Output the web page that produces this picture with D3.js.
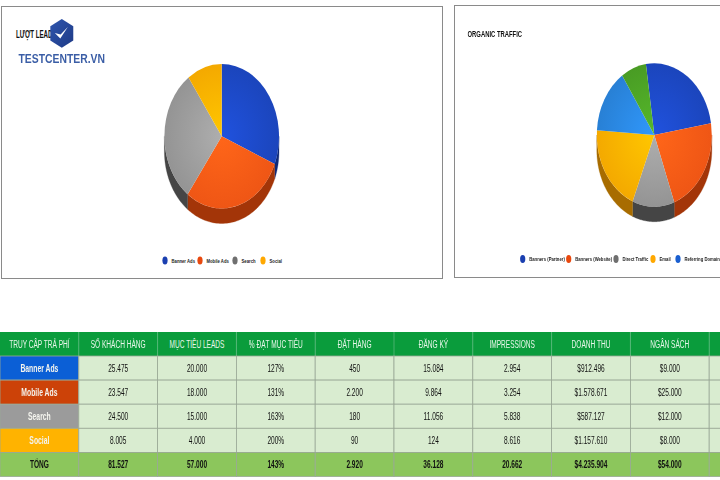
<!DOCTYPE html>
<html><head><meta charset="utf-8">
<script src="https://cdn.jsdelivr.net/npm/d3@7"></script>
<style>html,body{margin:0;padding:0;background:#fff;overflow:hidden}svg{display:block;filter:blur(.35px)}text{font-family:"Liberation Sans",Arial,sans-serif}</style>
</head><body><svg id="c" width="720" height="480"></svg>
<script>
const leadNames = ["Banner Ads","Mobile Ads","Search","Social"];
const leadValues = [25475,23547,24500,8005];
const leadColors = ["#1c48c4","#f95a16","#9a9a9a","#ffb000"];
const leadDark = ["#0f2a78","#a33508","#454545","#a86c00"];
const trafficNames = ["Banners (Partner)","Banners (Website)","Direct Traffic","Email","Referring Domains"];
const trafficValues = [24.7,22.0,11.8,19.9,14.5,7.1];
const trafficColors = ["#1c48c4","#f95a16","#9a9a9a","#ffb000","#2a86de","#4ca326"];
const trafficDark = ["#0f2a78","#a33508","#454545","#a86c00","#14508c","#2a6414"];
const headers = ["TRUY CẬP TRẢ PHÍ","SỐ KHÁCH HÀNG","MỤC TIÊU LEADS","% ĐẠT MỤC TIÊU","ĐẶT HÀNG","ĐĂNG KÝ","IMPRESSIONS","DOANH THU","NGÂN SÁCH",""];
const rowBanner = ["Banner Ads","25.475","20.000","127%","450","15.084","2.954","$912.496","$9.000",""];
const rowMobile = ["Mobile Ads","23.547","18.000","131%","2.200","9.864","3.254","$1.578.671","$25.000",""];
const rowSearch = ["Search","24.500","15.000","163%","180","11.056","5.838","$587.127","$12.000",""];
const rowSocial = ["Social","8.005","4.000","200%","90","124","8.616","$1.157.610","$8.000",""];
const rowTotal = ["TỔNG","81.527","57.000","143%","2.920","36.128","20.662","$4.235.904","$54.000",""];
const rowFills = ["#0b5fd6","#cc4208","#9b9b9b","#ffb300"];

const svg = d3.select("#c");
const defs = svg.append("defs");
function sq(parent, s, x, y, size, sx, anchor, fill, weight){
  return parent.append("text").attr("transform",`translate(${x},${y}) scale(${sx},1)`)
    .attr("text-anchor",anchor||"middle").attr("font-size",size).attr("fill",fill||"#111")
    .attr("font-weight",weight||"normal").text(s);
}
// cards
[[1.5,6.5,441,272],[454.5,5.5,270,272]].forEach(r=>{
  svg.append("rect").attr("x",r[0]).attr("y",r[1]).attr("width",r[2]).attr("height",r[3])
    .attr("fill","#fff").attr("stroke","#8a8a8a").attr("stroke-width",1);
});
// pies
function pie3d(values, colors, dark, cx, cy, rx, ry, depth, startDeg, id){
  const g = svg.append("g");
  const start = startDeg*Math.PI/180;
  const arcs = d3.pie().sort(null).startAngle(start).endAngle(start+2*Math.PI)(values);
  const px = a => cx + rx*Math.sin(a), py = a => cy - ry*Math.cos(a);
  const line = d3.line();
  arcs.forEach((d,i)=>{
    // wall: part of the slice lying on the lower half of the ellipse
    [0,2*Math.PI].forEach(off=>{
      const a0 = Math.max(d.startAngle+off, Math.PI/2), a1 = Math.min(d.endAngle+off, 3*Math.PI/2);
      if(a1<=a0) return;
      const top = d3.range(0,61).map(k=>a0+(a1-a0)*k/60);
      const pts = top.map(a=>[px(a),py(a)]).concat(top.slice().reverse().map(a=>[px(a),py(a)+depth]));
      g.append("path").attr("d",line(pts)+"Z").attr("fill",dark[i]).attr("stroke",dark[i]).attr("stroke-width",.3);
    });
  });
  const arc = d3.arc().innerRadius(0).outerRadius(100);
  const top = g.append("g").attr("transform",`translate(${cx},${cy}) scale(${rx/100},${ry/100})`);
  arcs.forEach((d,i)=>{
    const gid = id+"g"+i;
    const rg = defs.append("radialGradient").attr("id",gid).attr("gradientUnits","userSpaceOnUse")
      .attr("cx",0).attr("cy",0).attr("r",100);
    const base = d3.color(colors[i]);
    rg.append("stop").attr("offset","0%").attr("stop-color",base.brighter(.35));
    rg.append("stop").attr("offset","100%").attr("stop-color",base.darker(.12));
    top.append("path").attr("d",arc(d)).attr("fill",`url(#${gid})`);
  });
}
pie3d(leadValues,leadColors,leadDark,221.7,136.3,57.3,72.2,15,0,"a");
pie3d(trafficValues,trafficColors,trafficDark,654.3,135,57.5,71.7,15,-8.4,"b");
// titles
sq(svg,"LƯỢT LEADS",16,38,10,.62,"start","#111","bold");
sq(svg,"ORGANIC TRAFFIC",467.5,36.5,9.5,.62,"start","#111","bold");
// legends
function legend(names,colors,xs,y,tw){
  names.forEach((n,i)=>{
    svg.append("ellipse").attr("cx",xs[i]).attr("cy",y).attr("rx",2.6).attr("ry",4).attr("fill",colors[i]);
    sq(svg,n,xs[i]+6.5,y+2,6.2,.68,"start","#222","bold");
  });
}
legend(leadNames,["#1a3fb0","#e8480e","#6f6f6f","#ffa800"],[165,200,235,263],260.5);
legend(trafficNames,["#1a3fb0","#e8480e","#6f6f6f","#ffa800","#1a5fd0"],[522.7,568.7,616,653,678],259);
// logo
const hx=61.8,hy=33.4,hr=14.4;
defs.append("linearGradient").attr("id","lg").attr("x1",0).attr("y1",0).attr("x2",1).attr("y2",1)
  .call(s=>{s.append("stop").attr("offset",0).attr("stop-color","#2f55ad");s.append("stop").attr("offset",1).attr("stop-color","#1e3a86");});
svg.append("path").attr("d",d3.line()(d3.range(6).map(i=>{const a=i*Math.PI/3;return [hx+hr*.92*Math.sin(a),hy-hr*Math.cos(a)];}))+"Z").attr("fill","url(#lg)");
svg.append("path").attr("d",d3.line()([[hx-7,hy-0.5],[hx-1.5,hy+5],[hx+6,hy-6.5],[hx-1.2,hy+1.2]])+"Z").attr("fill","#fff");
svg.append("text").attr("x",18.5).attr("y",63).attr("font-size",12.5).attr("font-weight","bold").attr("fill","#3b5ea6")
  .attr("textLength",86.5).attr("lengthAdjust","spacingAndGlyphs").text("TESTCENTER.VN");
// table
const cols = d3.range(headers.length);
const x = d3.scaleBand().domain(cols).range([0,788]);
const rows = [rowBanner,rowMobile,rowSearch,rowSocial,rowTotal];
const y = d3.scaleBand().domain(d3.range(rows.length)).range([356,476.5]);
const t = svg.append("g");
const S=10.6, SX=.62;
cols.forEach(c=>{
  t.append("rect").attr("x",x(c)).attr("y",332).attr("width",x.bandwidth()).attr("height",24).attr("fill","#0a9c3c");
  if(c>0) t.append("line").attr("x1",x(c)).attr("x2",x(c)).attr("y1",332).attr("y2",356).attr("stroke","#55b878").attr("stroke-width",.8);
  sq(t,headers[c],x(c)+x.bandwidth()/2,347.5,S,SX,"middle","#e8f6ea");
});
rows.forEach((r,ri)=>{
  const total = ri===rows.length-1;
  cols.forEach(c=>{
    const isLabel = c===0 && !total;
    t.append("rect").attr("x",x(c)).attr("y",y(ri)).attr("width",x.bandwidth()).attr("height",y.bandwidth())
      .attr("fill",isLabel?rowFills[ri]:(total?"#8cc65c":"#d9ecd0")).attr("stroke","#9aa896").attr("stroke-width",.8);
    const ty=y(ri)+y.bandwidth()/2+4;
    sq(t,r[c],x(c)+x.bandwidth()/2,ty,isLabel?11:S,SX,"middle",isLabel?"#f4f4ee":"#111",(total||isLabel)?"bold":"normal");
  });
});
</script></body></html>
